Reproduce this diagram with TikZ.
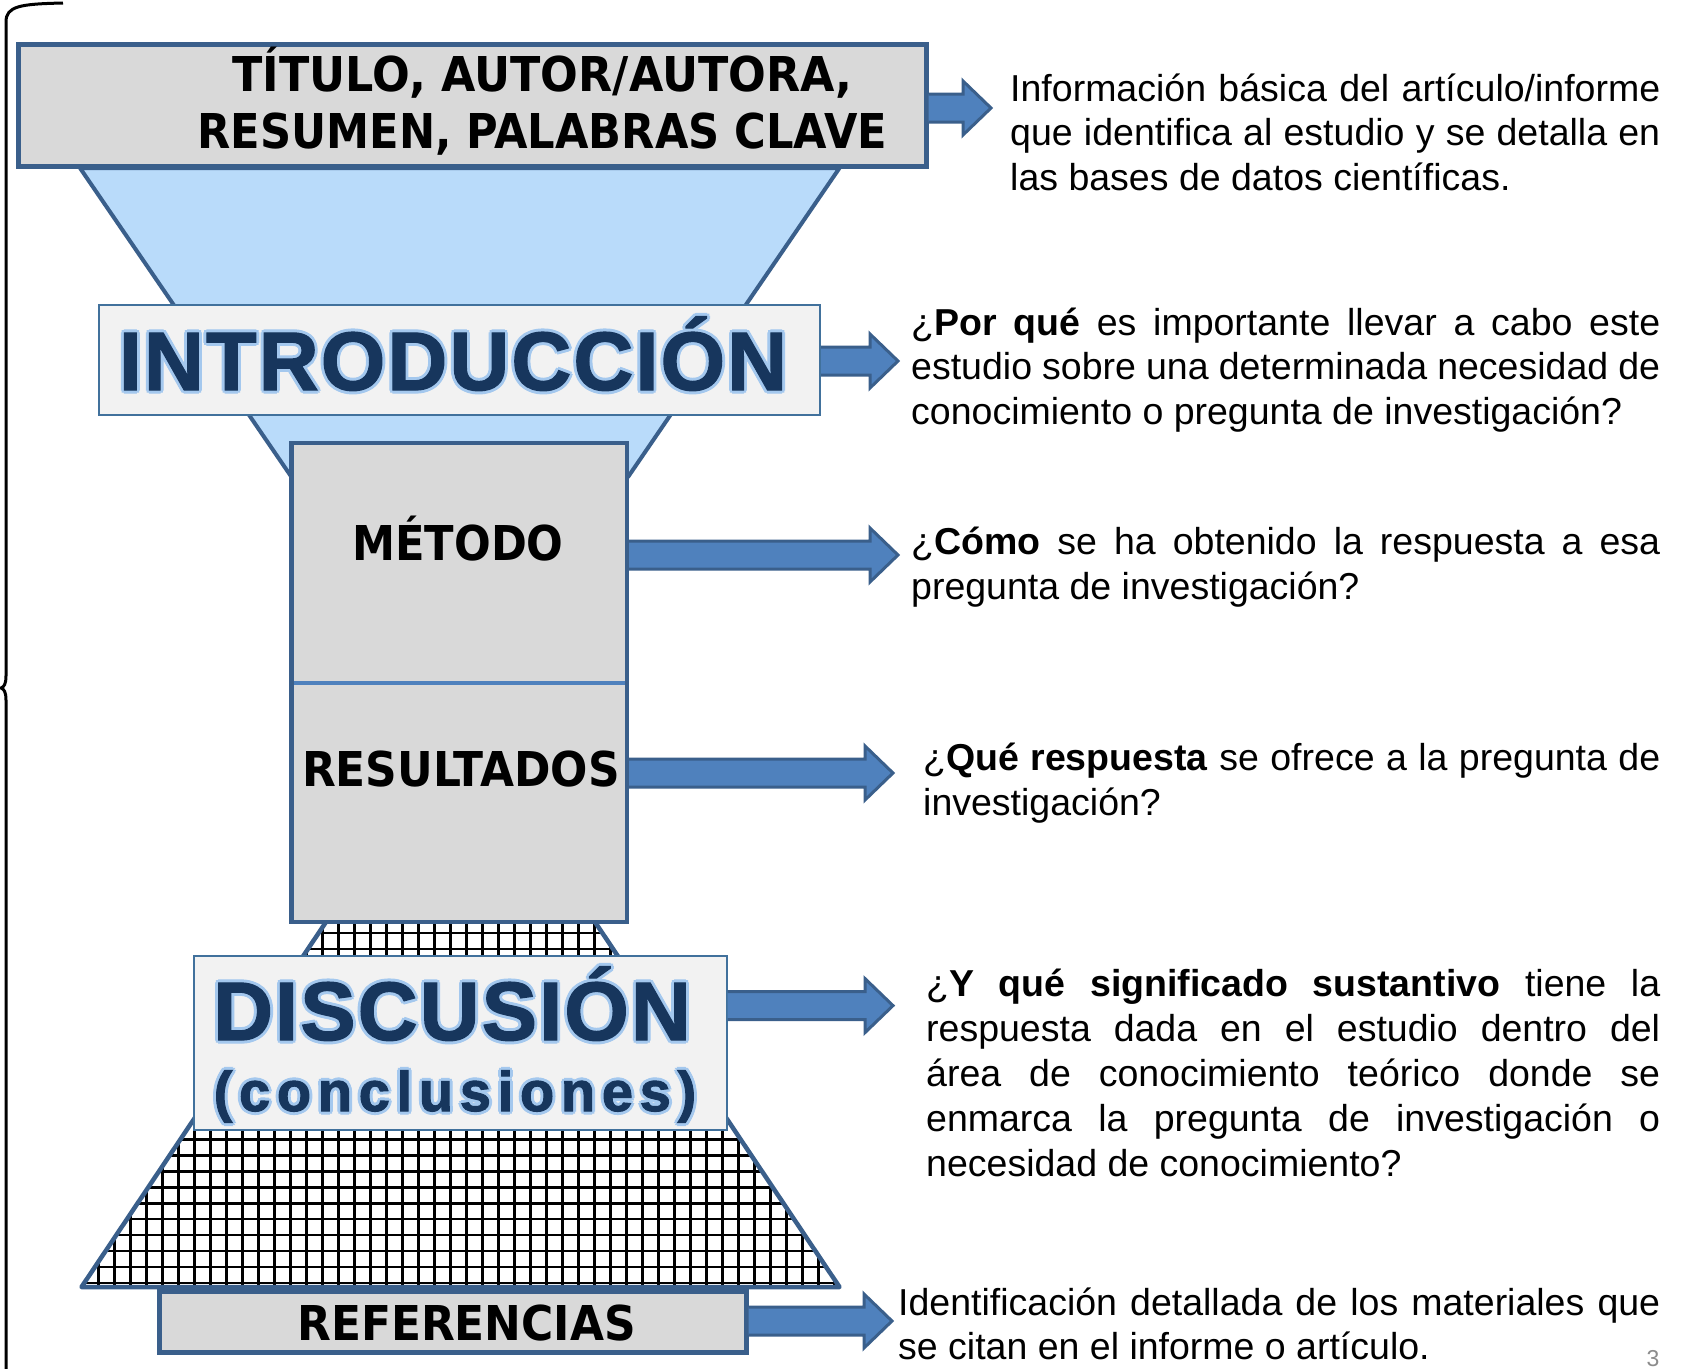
\documentclass[tikz,border=0pt]{standalone}
\usepackage{fontspec}
\setmainfont{Liberation Sans}
\newfontfamily\hdfont{DejaVu Sans}
\newfontfamily\bigfont{Liberation Sans}[LetterSpace=2.5,BoldFeatures={FakeBold=1.5}]
\newfontfamily\conclfont{Liberation Sans}[LetterSpace=12,BoldFeatures={FakeBold=1.8}]
\usetikzlibrary{calc}
\definecolor{bordblue}{HTML}{3A5F8B}
\definecolor{thinblue}{HTML}{41719C}
\definecolor{funnelblue}{HTML}{B9DBFA}
\definecolor{boxgray}{HTML}{D9D9D9}
\definecolor{boxlight}{HTML}{F2F2F2}
\definecolor{arrfillc}{HTML}{4F81BD}
\definecolor{navy}{HTML}{17365D}
\definecolor{glowblue}{HTML}{A4C8EE}
\definecolor{pagegray}{HTML}{8C8C8C}
\newcommand\blockarrow[2]{%
 \fill[arrfill] ($(#1)+(0,-14)$) -- ($(#2)+(-28,-14)$) -- ($(#2)+(-28,-27)$) -- (#2) -- ($(#2)+(-28,27)$) -- ($(#2)+(-28,14)$) -- ($(#1)+(0,14)$) -- cycle;
 \draw[arrline] ($(#1)+(0,-14)$) -- ($(#2)+(-28,-14)$) -- ($(#2)+(-28,-27)$) -- (#2) -- ($(#2)+(-28,27)$) -- ($(#2)+(-28,14)$) -- ($(#1)+(0,14)$);}
\newcommand\hdtext[2][0.9]{\scalebox{#1}[1]{\hdfont\bfseries #2}}
\newcommand\gcopy[3]{\makebox[0pt][l]{\hspace*{#1}\raisebox{#2}{\textcolor{glowblue}{#3}}}}
\newcommand\glowit[1]{\gcopy{3pt}{0pt}{#1}\gcopy{-3pt}{0pt}{#1}\gcopy{0pt}{3pt}{#1}\gcopy{0pt}{-3pt}{#1}\gcopy{2.1pt}{2.1pt}{#1}\gcopy{-2.1pt}{2.1pt}{#1}\gcopy{2.1pt}{-2.1pt}{#1}\gcopy{-2.1pt}{-2.1pt}{#1}\textcolor{navy}{#1}}
\tikzset{
 box/.style={inner sep=0pt, outer sep=0pt, anchor=north west},
 graybox/.style={box, fill=boxgray, draw=bordblue, line width=5pt},
 lightbox/.style={box, fill=boxlight, draw=thinblue, line width=2pt},
 arrfill/.style={fill=arrfillc},
 arrline/.style={draw=bordblue, line width=3pt, line join=miter},
 funnel/.style={fill=funnelblue, draw=bordblue, line width=4pt, line join=round},
 gridl/.style={draw=black, line width=2.5pt},
 hd/.style={inner sep=0pt, anchor=base, font=\fontsize{48}{56}\selectfont},
 txt/.style={inner sep=0pt, anchor=base west, font=\fontsize{37.5}{44}\selectfont},
 bigt/.style={inner sep=0pt, anchor=base, font=\fontsize{83}{90}\bigfont\bfseries},
 conclt/.style={inner sep=0pt, anchor=base, font=\fontsize{56}{60}\conclfont\bfseries},
}
\begin{document}
\begin{tikzpicture}[x=1pt,y=-1pt]
\useasboundingbox (0,0) rectangle (1681,1368);
\fill[white] (0,0) rectangle (1681,1368);

% upper funnel
\draw[funnel] (80,168) -- (839.5,168) -- (628,477) -- (291.5,477) -- cycle;

% lower funnel with grid
\fill[white] (326,922) -- (595,922) -- (839.5,1287) -- (81.5,1287) -- cycle;
\begin{scope}
 \clip (326,922) -- (595,922) -- (839.5,1287) -- (81.5,1287) -- cycle;
 \foreach \k in {-2,...,48}{\pgfmathsetmacro\gx{98.3+16*\k}\draw[gridl] (\gx,900) -- (\gx,1300);}
 \foreach \k in {-19,...,6}{\pgfmathsetmacro\gy{1203.3+15.9*\k}\draw[gridl] (60,\gy) -- (860,\gy);}
\end{scope}
\draw[bordblue, line width=4.5pt, line join=round] (326,922) -- (81.5,1287) -- (839.5,1287) -- (595,922);

% boxes
\node[graybox, minimum width=908pt, minimum height=122pt] (title) at (18,44) {};
\node[lightbox, minimum width=721.4pt, minimum height=110pt] (intro) at (98.6,305) {};
\node[box, fill=boxgray, minimum width=335.5pt, minimum height=240pt] (metodo) at (291.5,443) {};
\node[box, fill=boxgray, minimum width=335.5pt, minimum height=239pt] (result) at (291.5,683) {};
\draw[bordblue, line width=4.5pt] (metodo.north west) rectangle (result.south east);
\draw[arrfillc, line width=4pt] ($(metodo.south west)+(2,0)$) -- ($(metodo.south east)+(-2,0)$);
\node[lightbox, minimum width=532.4pt, minimum height=173.7pt] (disc) at (194.2,956.3) {};
\node[graybox, minimum width=587pt, minimum height=61pt] (refs) at (159,1291) {};

% box texts
\node[hd] (tl1) at (542.5,91.7) {\hdtext[0.925]{TÍTULO, AUTOR/AUTORA,}};
\node[hd] (tl2) at (542.5,148.3) {\hdtext{RESUMEN, PALABRAS CLAVE}};
\node[hd] (mt) at (458,560) {\hdtext{MÉTODO}};
\node[hd] (rt) at (461,786.7) {\hdtext[0.915]{RESULTADOS}};
\node[hd] (rft) at (466.5,1340) {\hdtext[0.915]{REFERENCIAS}};

\node[bigt] (it) at (453,390) {\glowit{INTRODUCCIÓN}};
\node[bigt] (dt) at (452,1040) {\glowit{DISCUSIÓN}};
\node[conclt] (ct) at (455,1111) {\glowit{(conclusiones)}};

% arrows
\coordinate (tip1) at (991,108);
\coordinate (tip2) at (898,361);
\coordinate (tip3) at (898,555);
\coordinate (tip4) at (893,773);
\coordinate (tip5) at (893,1005.6);
\coordinate (tip6) at (892,1321);
\path (title.east |- tip1) ++(2.5,0) coordinate (s1);
\path (intro.east |- tip2) ++(1,0) coordinate (s2);
\path (metodo.east |- tip3) ++(2.2,0) coordinate (s3);
\path (result.east |- tip4) ++(2.2,0) coordinate (s4);
\path (disc.east |- tip5) ++(1,0) coordinate (s5);
\path (refs.east |- tip6) ++(2.5,0) coordinate (s6);
\blockarrow{s1}{tip1}
\blockarrow{s2}{tip2}
\blockarrow{s3}{tip3}
\blockarrow{s4}{tip4}
\blockarrow{s5}{tip5}
\blockarrow{s6}{tip6}

% right texts
\node[txt] (a1) at (1010,101) {\makebox[650pt][s]{Información básica del artículo/informe}};
\node[txt] (a2) at (1010,145.5) {\makebox[650pt][s]{que identifica al estudio y se detalla en}};
\node[txt] (a3) at (1010,190) {las bases de datos científicas.};

\node[txt] (b1) at (911,335) {\makebox[749pt][s]{¿\textbf{Por qué} es importante llevar a cabo este}};
\node[txt] (b2) at (911,379.5) {\makebox[749pt][s]{estudio sobre una determinada necesidad de}};
\node[txt] (b3) at (911,424) {conocimiento o pregunta de investigación?};

\node[txt] (c1) at (911,554) {\makebox[749pt][s]{¿\textbf{Cómo} se ha obtenido la respuesta a esa}};
\node[txt] (c2) at (911,599) {pregunta de investigación?};

\node[txt] (d1) at (923,770.5) {\makebox[737pt][s]{¿\textbf{Qué respuesta} se ofrece a la pregunta de}};
\node[txt] (d2) at (923,815.5) {investigación?};

\node[txt] (e1) at (926,996) {\makebox[734pt][s]{¿\textbf{Y qué significado sustantivo} tiene la}};
\node[txt] (e2) at (926,1041) {\makebox[734pt][s]{respuesta dada en el estudio dentro del}};
\node[txt] (e3) at (926,1086) {\makebox[734pt][s]{área de conocimiento teórico donde se}};
\node[txt] (e4) at (926,1131) {\makebox[734pt][s]{enmarca la pregunta de investigación o}};
\node[txt] (e5) at (926,1176) {necesidad de conocimiento?};

\node[txt] (f1) at (898,1315) {\makebox[762pt][s]{Identificación detallada de los materiales que}};
\node[txt] (f2) at (898,1359) {se citan en el informe o artículo.};

\node[inner sep=0pt, anchor=base, text=pagegray, font=\fontsize{23}{23}\selectfont] (pg) at (1653,1366) {3};

% brace
\draw[black, line width=3pt] (63,3) .. controls (20,4) and (6,6) .. (6,22) -- (6,676) .. controls (6,684) and (4,687) .. (1,688) .. controls (4,689) and (6,692) .. (6,700) -- (6,1370);
\end{tikzpicture}
\end{document}
